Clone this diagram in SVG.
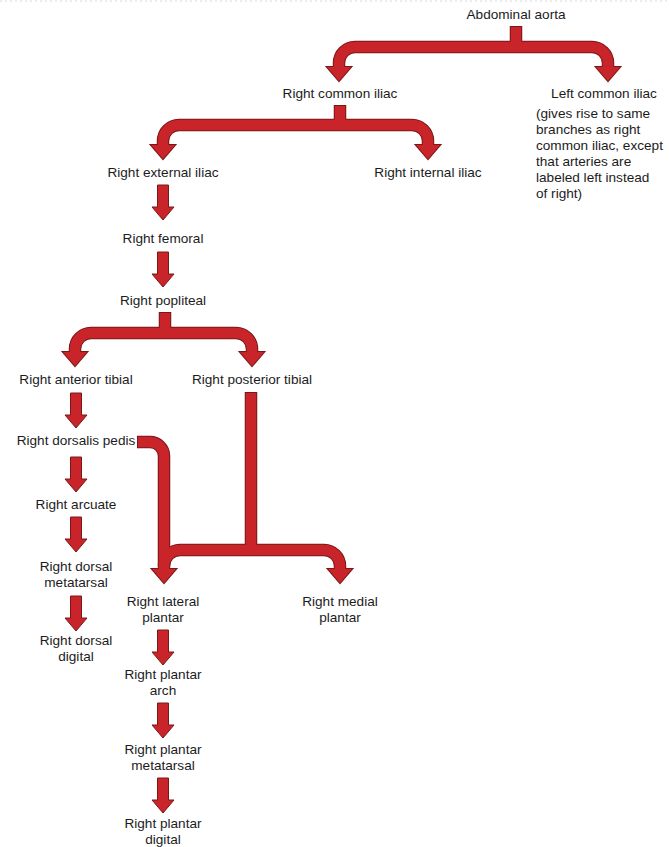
<svg xmlns="http://www.w3.org/2000/svg" xmlns:xlink="http://www.w3.org/1999/xlink" width="669" height="847" viewBox="0 0 669 847">
<style>
text{font-family:"Liberation Sans",Arial,Helvetica,sans-serif;font-size:13.6px;fill:#1c1c1c;text-anchor:middle}
text.l{text-anchor:start}
.dk{fill:none;stroke:#7a1818;stroke-width:12.5;stroke-linecap:butt;stroke-linejoin:round}
.rd{fill:none;stroke:#c8242a;stroke-width:10.5;stroke-linecap:butt;stroke-linejoin:round}
.hdk{fill:#7a1818;stroke:#7a1818;stroke-width:2;stroke-linejoin:miter}
.hrd{fill:#c8242a}
.sa{fill:#c8242a;stroke:#7a1818;stroke-width:1}
</style>
<defs>
<polygon id="hd" points="-12,-14 12,-14 0,0"/>
<polygon id="sa" points="-5.5,0 5.5,0 5.5,22 11,22 0,35 -11,22 -5.5,22"/>
</defs>
<line x1="0" y1="1" x2="669" y2="1" stroke="#e6e6e6" stroke-width="1.5" stroke-dasharray="2 3"/>
<g id="connectors">
<g id="dark-layer">
<path class="dk" d="M516 26V47M339 68V63A16 16 0 0 1 355 47H592A16 16 0 0 1 608 63V68"/>
<path class="dk" d="M340 105V125M163 146V141A16 16 0 0 1 179 125H412A16 16 0 0 1 428 141V146"/>
<path class="dk" d="M165 312V333M75 353V349A16 16 0 0 1 91 333H236A16 16 0 0 1 252 349V353"/>
<path class="dk" d="M137 442H150A14 14 0 0 1 164 456V570"/>
<path class="dk" d="M251 392V550M340 570V566A16 16 0 0 0 324 550H180A16 16 0 0 0 164 566"/>
<use href="#hd" class="hdk" transform="translate(339 81)"/>
<use href="#hd" class="hdk" transform="translate(608 81)"/>
<use href="#hd" class="hdk" transform="translate(163 159)"/>
<use href="#hd" class="hdk" transform="translate(428 159)"/>
<use href="#hd" class="hdk" transform="translate(75 366)"/>
<use href="#hd" class="hdk" transform="translate(252 366)"/>
<use href="#hd" class="hdk" transform="translate(164 583)"/>
<use href="#hd" class="hdk" transform="translate(340 583)"/>
</g>
<g id="red-layer">
<path class="rd" d="M516 27V47M339 68V63A16 16 0 0 1 355 47H592A16 16 0 0 1 608 63V68"/>
<path class="rd" d="M340 106V125M163 146V141A16 16 0 0 1 179 125H412A16 16 0 0 1 428 141V146"/>
<path class="rd" d="M165 313V333M75 353V349A16 16 0 0 1 91 333H236A16 16 0 0 1 252 349V353"/>
<path class="rd" d="M138 442H150A14 14 0 0 1 164 456V570"/>
<path class="rd" d="M251 393V550M340 570V566A16 16 0 0 0 324 550H180A16 16 0 0 0 164 566"/>
<use href="#hd" class="hrd" transform="translate(339 81)"/>
<use href="#hd" class="hrd" transform="translate(608 81)"/>
<use href="#hd" class="hrd" transform="translate(163 159)"/>
<use href="#hd" class="hrd" transform="translate(428 159)"/>
<use href="#hd" class="hrd" transform="translate(75 366)"/>
<use href="#hd" class="hrd" transform="translate(252 366)"/>
<use href="#hd" class="hrd" transform="translate(164 583)"/>
<use href="#hd" class="hrd" transform="translate(340 583)"/>
</g>
<g id="straight-arrows">
<use href="#sa" class="sa" transform="translate(163 185)"/>
<use href="#sa" class="sa" transform="translate(163 252)"/>
<use href="#sa" class="sa" transform="translate(76 393)"/>
<use href="#sa" class="sa" transform="translate(76 457)"/>
<use href="#sa" class="sa" transform="translate(76 517)"/>
<use href="#sa" class="sa" transform="translate(76 596)"/>
<use href="#sa" class="sa" transform="translate(163 630)"/>
<use href="#sa" class="sa" transform="translate(163 703)"/>
<use href="#sa" class="sa" transform="translate(163 778)"/>
</g>
</g>
<g id="abdominal-aorta"><text x="516" y="19">Abdominal aorta</text></g>
<g id="right-common-iliac"><text x="340" y="98">Right common iliac</text></g>
<g id="left-common-iliac"><text x="604" y="98">Left common iliac</text>
<text class="l" x="536" y="118">(gives rise to same</text>
<text class="l" x="536" y="134">branches as right</text>
<text class="l" x="536" y="150">common iliac, except</text>
<text class="l" x="536" y="166">that arteries are</text>
<text class="l" x="536" y="182">labeled left instead</text>
<text class="l" x="536" y="198">of right)</text></g>
<g id="right-external-iliac"><text x="163" y="177">Right external iliac</text></g>
<g id="right-internal-iliac"><text x="428" y="177">Right internal iliac</text></g>
<g id="right-femoral"><text x="163" y="243">Right femoral</text></g>
<g id="right-popliteal"><text x="163" y="305">Right popliteal</text></g>
<g id="right-anterior-tibial"><text x="76" y="384">Right anterior tibial</text></g>
<g id="right-posterior-tibial"><text x="252" y="384">Right posterior tibial</text></g>
<g id="right-dorsalis-pedis"><text x="76" y="445">Right dorsalis pedis</text></g>
<g id="right-arcuate"><text x="76" y="509">Right arcuate</text></g>
<g id="right-dorsal-metatarsal"><text x="76" y="571">Right dorsal</text><text x="76" y="587">metatarsal</text></g>
<g id="right-dorsal-digital"><text x="76" y="645">Right dorsal</text><text x="76" y="661">digital</text></g>
<g id="right-lateral-plantar"><text x="163" y="606">Right lateral</text><text x="163" y="622">plantar</text></g>
<g id="right-medial-plantar"><text x="340" y="606">Right medial</text><text x="340" y="622">plantar</text></g>
<g id="right-plantar-arch"><text x="163" y="679">Right plantar</text><text x="163" y="695">arch</text></g>
<g id="right-plantar-metatarsal"><text x="163" y="754">Right plantar</text><text x="163" y="770">metatarsal</text></g>
<g id="right-plantar-digital"><text x="163" y="828">Right plantar</text><text x="163" y="844">digital</text></g>
</svg>
